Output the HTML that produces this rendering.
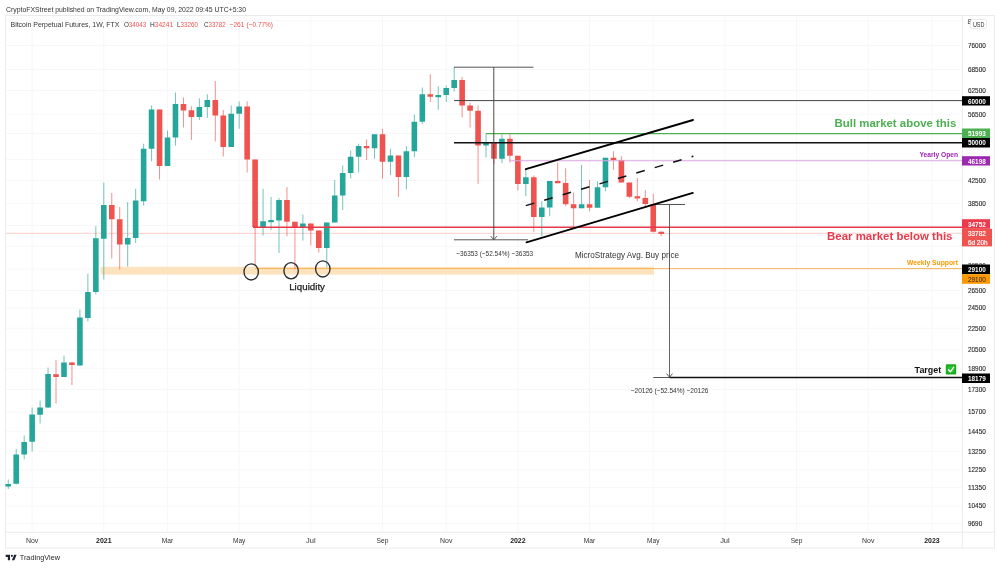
<!DOCTYPE html>
<html lang="en"><head><meta charset="utf-8"><title>Bitcoin Perpetual Futures, 1W, FTX</title>
<style>
html,body{margin:0;padding:0;background:#fff;}
body{width:1000px;height:568px;overflow:hidden;font-family:"Liberation Sans",sans-serif;}
svg{display:block;font-family:"Liberation Sans",sans-serif;}
</style></head><body>
<svg width="1000" height="568" viewBox="0 0 1000 568">
<rect width="1000" height="568" fill="#fff"/>
<g id="frame" fill="none" stroke="#ebebee" stroke-width="1">
<rect x="5.5" y="15.5" width="989" height="532.5"/>
<line x1="962.3" x2="962.3" y1="15.5" y2="548"/>
<line x1="5.5" x2="994.5" y1="532.3" y2="532.3"/>
</g>
<g id="chart">
<line x1="6" x2="962" y1="45.50" y2="45.50" stroke="#f7f7f9" stroke-width="1"/>
<line x1="6" x2="962" y1="69.50" y2="69.50" stroke="#f7f7f9" stroke-width="1"/>
<line x1="6" x2="962" y1="90.50" y2="90.50" stroke="#f7f7f9" stroke-width="1"/>
<line x1="6" x2="962" y1="114.25" y2="114.25" stroke="#f7f7f9" stroke-width="1"/>
<line x1="6" x2="962" y1="180.50" y2="180.50" stroke="#f7f7f9" stroke-width="1"/>
<line x1="6" x2="962" y1="203.25" y2="203.25" stroke="#f7f7f9" stroke-width="1"/>
<line x1="6" x2="962" y1="290.50" y2="290.50" stroke="#f7f7f9" stroke-width="1"/>
<line x1="6" x2="962" y1="308.00" y2="308.00" stroke="#f7f7f9" stroke-width="1"/>
<line x1="6" x2="962" y1="328.25" y2="328.25" stroke="#f7f7f9" stroke-width="1"/>
<line x1="6" x2="962" y1="350.00" y2="350.00" stroke="#f7f7f9" stroke-width="1"/>
<line x1="6" x2="962" y1="368.75" y2="368.75" stroke="#f7f7f9" stroke-width="1"/>
<line x1="6" x2="962" y1="389.50" y2="389.50" stroke="#f7f7f9" stroke-width="1"/>
<line x1="6" x2="962" y1="412.00" y2="412.00" stroke="#f7f7f9" stroke-width="1"/>
<line x1="6" x2="962" y1="431.25" y2="431.25" stroke="#f7f7f9" stroke-width="1"/>
<line x1="6" x2="962" y1="451.25" y2="451.25" stroke="#f7f7f9" stroke-width="1"/>
<line x1="6" x2="962" y1="470.00" y2="470.00" stroke="#f7f7f9" stroke-width="1"/>
<line x1="6" x2="962" y1="487.50" y2="487.50" stroke="#f7f7f9" stroke-width="1"/>
<line x1="6" x2="962" y1="506.00" y2="506.00" stroke="#f7f7f9" stroke-width="1"/>
<line x1="6" x2="962" y1="523.50" y2="523.50" stroke="#f7f7f9" stroke-width="1"/>
<line x1="6" x2="962" y1="20.90" y2="20.90" stroke="#f7f7f9" stroke-width="1"/>
<line x1="6" x2="962" y1="133.57" y2="133.57" stroke="#f7f7f9" stroke-width="1"/>
<line x1="6" x2="962" y1="159.51" y2="159.51" stroke="#f7f7f9" stroke-width="1"/>
<line x1="6" x2="962" y1="225.44" y2="225.44" stroke="#f7f7f9" stroke-width="1"/>
<line x1="6" x2="962" y1="246.24" y2="246.24" stroke="#f7f7f9" stroke-width="1"/>
<line x1="6" x2="962" y1="269.08" y2="269.08" stroke="#f7f7f9" stroke-width="1"/>
<line x1="32.14" x2="32.14" y1="16" y2="532" stroke="#f7f7f9" stroke-width="1"/>
<line x1="103.81" x2="103.81" y1="16" y2="532" stroke="#f7f7f9" stroke-width="1"/>
<line x1="167.51" x2="167.51" y1="16" y2="532" stroke="#f7f7f9" stroke-width="1"/>
<line x1="239.18" x2="239.18" y1="16" y2="532" stroke="#f7f7f9" stroke-width="1"/>
<line x1="310.84" x2="310.84" y1="16" y2="532" stroke="#f7f7f9" stroke-width="1"/>
<line x1="382.51" x2="382.51" y1="16" y2="532" stroke="#f7f7f9" stroke-width="1"/>
<line x1="446.22" x2="446.22" y1="16" y2="532" stroke="#f7f7f9" stroke-width="1"/>
<line x1="517.88" x2="517.88" y1="16" y2="532" stroke="#f7f7f9" stroke-width="1"/>
<line x1="589.55" x2="589.55" y1="16" y2="532" stroke="#f7f7f9" stroke-width="1"/>
<line x1="653.25" x2="653.25" y1="16" y2="532" stroke="#f7f7f9" stroke-width="1"/>
<line x1="724.92" x2="724.92" y1="16" y2="532" stroke="#f7f7f9" stroke-width="1"/>
<line x1="796.59" x2="796.59" y1="16" y2="532" stroke="#f7f7f9" stroke-width="1"/>
<line x1="868.25" x2="868.25" y1="16" y2="532" stroke="#f7f7f9" stroke-width="1"/>
<line x1="931.96" x2="931.96" y1="16" y2="532" stroke="#f7f7f9" stroke-width="1"/>
<rect x="100.4" y="266.8" width="553.6" height="7.8" fill="#fde3bd"/>
<line x1="255.2" x2="962" y1="268.6" y2="268.6" stroke="#f6b35c" stroke-width="1"/>
<line x1="6" x2="962" y1="233.3" y2="233.3" stroke="#f8bcba" stroke-width="0.75"/>
<line x1="8.25" x2="8.25" y1="479.5" y2="489.0" stroke="#26a69a" stroke-width="1" opacity="0.65"/>
<rect x="5.45" y="484.0" width="5.6" height="2.50" fill="#26a69a"/>
<line x1="16.21" x2="16.21" y1="448.75" y2="484.5" stroke="#26a69a" stroke-width="1" opacity="0.65"/>
<rect x="13.41" y="454.5" width="5.6" height="29.25" fill="#26a69a"/>
<line x1="24.18" x2="24.18" y1="435.5" y2="459.25" stroke="#26a69a" stroke-width="1" opacity="0.65"/>
<rect x="21.38" y="442.0" width="5.6" height="12.50" fill="#26a69a"/>
<line x1="32.14" x2="32.14" y1="407.5" y2="451.5" stroke="#26a69a" stroke-width="1" opacity="0.65"/>
<rect x="29.34" y="414.5" width="5.6" height="27.25" fill="#26a69a"/>
<line x1="40.10" x2="40.10" y1="400.5" y2="423.5" stroke="#26a69a" stroke-width="1" opacity="0.65"/>
<rect x="37.30" y="407.5" width="5.6" height="7.25" fill="#26a69a"/>
<line x1="48.06" x2="48.06" y1="367.5" y2="408.0" stroke="#26a69a" stroke-width="1" opacity="0.65"/>
<rect x="45.27" y="374.0" width="5.6" height="33.50" fill="#26a69a"/>
<line x1="56.03" x2="56.03" y1="360.0" y2="403.5" stroke="#ef5350" stroke-width="1" opacity="0.65"/>
<rect x="53.23" y="374.25" width="5.6" height="2.75" fill="#ef5350"/>
<line x1="63.99" x2="63.99" y1="355.5" y2="377.0" stroke="#26a69a" stroke-width="1" opacity="0.65"/>
<rect x="61.19" y="362.5" width="5.6" height="14.50" fill="#26a69a"/>
<line x1="71.95" x2="71.95" y1="362.0" y2="385.0" stroke="#ef5350" stroke-width="1" opacity="0.65"/>
<rect x="69.15" y="362.5" width="5.6" height="2.50" fill="#ef5350"/>
<line x1="79.92" x2="79.92" y1="309.5" y2="365.5" stroke="#26a69a" stroke-width="1" opacity="0.65"/>
<rect x="77.12" y="317.5" width="5.6" height="48.00" fill="#26a69a"/>
<line x1="87.88" x2="87.88" y1="273.75" y2="321.25" stroke="#26a69a" stroke-width="1" opacity="0.65"/>
<rect x="85.08" y="292.0" width="5.6" height="26.00" fill="#26a69a"/>
<line x1="95.84" x2="95.84" y1="226.25" y2="294.5" stroke="#26a69a" stroke-width="1" opacity="0.65"/>
<rect x="93.04" y="238.25" width="5.6" height="53.75" fill="#26a69a"/>
<line x1="103.81" x2="103.81" y1="182.5" y2="279.5" stroke="#26a69a" stroke-width="1" opacity="0.65"/>
<rect x="101.01" y="205.0" width="5.6" height="33.75" fill="#26a69a"/>
<line x1="111.77" x2="111.77" y1="193.0" y2="258.5" stroke="#ef5350" stroke-width="1" opacity="0.65"/>
<rect x="108.97" y="205.0" width="5.6" height="14.25" fill="#ef5350"/>
<line x1="119.73" x2="119.73" y1="207.0" y2="269.5" stroke="#ef5350" stroke-width="1" opacity="0.65"/>
<rect x="116.93" y="219.25" width="5.6" height="25.25" fill="#ef5350"/>
<line x1="127.70" x2="127.70" y1="202.0" y2="266.5" stroke="#26a69a" stroke-width="1" opacity="0.65"/>
<rect x="124.90" y="238.0" width="5.6" height="6.50" fill="#26a69a"/>
<line x1="135.66" x2="135.66" y1="188.75" y2="243.0" stroke="#26a69a" stroke-width="1" opacity="0.65"/>
<rect x="132.86" y="200.5" width="5.6" height="37.50" fill="#26a69a"/>
<line x1="143.62" x2="143.62" y1="143.75" y2="205.5" stroke="#26a69a" stroke-width="1" opacity="0.65"/>
<rect x="140.82" y="148.75" width="5.6" height="52.50" fill="#26a69a"/>
<line x1="151.58" x2="151.58" y1="105.5" y2="161.25" stroke="#26a69a" stroke-width="1" opacity="0.65"/>
<rect x="148.78" y="109.5" width="5.6" height="39.25" fill="#26a69a"/>
<line x1="159.55" x2="159.55" y1="109.5" y2="179.5" stroke="#ef5350" stroke-width="1" opacity="0.65"/>
<rect x="156.75" y="109.5" width="5.6" height="56.50" fill="#ef5350"/>
<line x1="167.51" x2="167.51" y1="130.5" y2="166.0" stroke="#26a69a" stroke-width="1" opacity="0.65"/>
<rect x="164.71" y="137.5" width="5.6" height="28.50" fill="#26a69a"/>
<line x1="175.47" x2="175.47" y1="92.5" y2="145.5" stroke="#26a69a" stroke-width="1" opacity="0.65"/>
<rect x="172.67" y="104.0" width="5.6" height="33.50" fill="#26a69a"/>
<line x1="183.44" x2="183.44" y1="97.5" y2="127.5" stroke="#ef5350" stroke-width="1" opacity="0.65"/>
<rect x="180.64" y="104.0" width="5.6" height="6.50" fill="#ef5350"/>
<line x1="191.40" x2="191.40" y1="106.25" y2="140.0" stroke="#ef5350" stroke-width="1" opacity="0.65"/>
<rect x="188.60" y="110.25" width="5.6" height="6.75" fill="#ef5350"/>
<line x1="199.36" x2="199.36" y1="98.25" y2="120.0" stroke="#26a69a" stroke-width="1" opacity="0.65"/>
<rect x="196.56" y="107.0" width="5.6" height="10.00" fill="#26a69a"/>
<line x1="207.32" x2="207.32" y1="94.25" y2="118.0" stroke="#26a69a" stroke-width="1" opacity="0.65"/>
<rect x="204.52" y="100.0" width="5.6" height="7.00" fill="#26a69a"/>
<line x1="215.29" x2="215.29" y1="81.0" y2="141.5" stroke="#ef5350" stroke-width="1" opacity="0.65"/>
<rect x="212.49" y="100.0" width="5.6" height="15.50" fill="#ef5350"/>
<line x1="223.25" x2="223.25" y1="110.0" y2="156.5" stroke="#ef5350" stroke-width="1" opacity="0.65"/>
<rect x="220.45" y="115.5" width="5.6" height="31.50" fill="#ef5350"/>
<line x1="231.21" x2="231.21" y1="105.5" y2="147.0" stroke="#26a69a" stroke-width="1" opacity="0.65"/>
<rect x="228.41" y="113.75" width="5.6" height="33.25" fill="#26a69a"/>
<line x1="239.18" x2="239.18" y1="101.5" y2="128.75" stroke="#26a69a" stroke-width="1" opacity="0.65"/>
<rect x="236.38" y="106.5" width="5.6" height="7.25" fill="#26a69a"/>
<line x1="247.14" x2="247.14" y1="101.25" y2="172.5" stroke="#ef5350" stroke-width="1" opacity="0.65"/>
<rect x="244.34" y="106.5" width="5.6" height="53.00" fill="#ef5350"/>
<line x1="255.10" x2="255.10" y1="159.5" y2="265.5" stroke="#ef5350" stroke-width="1" opacity="0.65"/>
<rect x="252.30" y="159.5" width="5.6" height="67.50" fill="#ef5350"/>
<line x1="263.07" x2="263.07" y1="188.75" y2="235.5" stroke="#26a69a" stroke-width="1" opacity="0.65"/>
<rect x="260.27" y="221.25" width="5.6" height="5.75" fill="#26a69a"/>
<line x1="271.03" x2="271.03" y1="197.0" y2="230.0" stroke="#26a69a" stroke-width="1" opacity="0.65"/>
<rect x="268.23" y="220.0" width="5.6" height="2.20" fill="#26a69a"/>
<line x1="278.99" x2="278.99" y1="198.0" y2="253.0" stroke="#26a69a" stroke-width="1" opacity="0.65"/>
<rect x="276.19" y="200.0" width="5.6" height="20.50" fill="#26a69a"/>
<line x1="286.95" x2="286.95" y1="187.0" y2="236.25" stroke="#ef5350" stroke-width="1" opacity="0.65"/>
<rect x="284.15" y="200.0" width="5.6" height="21.75" fill="#ef5350"/>
<line x1="294.92" x2="294.92" y1="221.75" y2="269.5" stroke="#ef5350" stroke-width="1" opacity="0.65"/>
<rect x="292.12" y="221.75" width="5.6" height="5.25" fill="#ef5350"/>
<line x1="302.88" x2="302.88" y1="214.5" y2="240.5" stroke="#26a69a" stroke-width="1" opacity="0.65"/>
<rect x="300.08" y="223.5" width="5.6" height="3.50" fill="#26a69a"/>
<line x1="310.84" x2="310.84" y1="223.5" y2="245.5" stroke="#ef5350" stroke-width="1" opacity="0.65"/>
<rect x="308.04" y="223.5" width="5.6" height="7.00" fill="#ef5350"/>
<line x1="318.81" x2="318.81" y1="230.5" y2="252.5" stroke="#ef5350" stroke-width="1" opacity="0.65"/>
<rect x="316.01" y="230.5" width="5.6" height="17.50" fill="#ef5350"/>
<line x1="326.77" x2="326.77" y1="222.5" y2="267.5" stroke="#26a69a" stroke-width="1" opacity="0.65"/>
<rect x="323.97" y="222.5" width="5.6" height="25.50" fill="#26a69a"/>
<line x1="334.73" x2="334.73" y1="180.0" y2="222.5" stroke="#26a69a" stroke-width="1" opacity="0.65"/>
<rect x="331.93" y="195.5" width="5.6" height="27.00" fill="#26a69a"/>
<line x1="342.70" x2="342.70" y1="165.5" y2="210.0" stroke="#26a69a" stroke-width="1" opacity="0.65"/>
<rect x="339.90" y="173.0" width="5.6" height="22.50" fill="#26a69a"/>
<line x1="350.66" x2="350.66" y1="150.5" y2="178.5" stroke="#26a69a" stroke-width="1" opacity="0.65"/>
<rect x="347.86" y="156.75" width="5.6" height="16.25" fill="#26a69a"/>
<line x1="358.62" x2="358.62" y1="143.75" y2="172.5" stroke="#26a69a" stroke-width="1" opacity="0.65"/>
<rect x="355.82" y="146.0" width="5.6" height="10.75" fill="#26a69a"/>
<line x1="366.58" x2="366.58" y1="139.5" y2="160.0" stroke="#ef5350" stroke-width="1" opacity="0.65"/>
<rect x="363.78" y="146.0" width="5.6" height="2.25" fill="#ef5350"/>
<line x1="374.55" x2="374.55" y1="134.25" y2="158.75" stroke="#26a69a" stroke-width="1" opacity="0.65"/>
<rect x="371.75" y="134.25" width="5.6" height="14.00" fill="#26a69a"/>
<line x1="382.51" x2="382.51" y1="129.0" y2="178.75" stroke="#ef5350" stroke-width="1" opacity="0.65"/>
<rect x="379.71" y="134.25" width="5.6" height="27.50" fill="#ef5350"/>
<line x1="390.47" x2="390.47" y1="148.75" y2="175.0" stroke="#26a69a" stroke-width="1" opacity="0.65"/>
<rect x="387.67" y="155.5" width="5.6" height="6.25" fill="#26a69a"/>
<line x1="398.44" x2="398.44" y1="155.5" y2="197.0" stroke="#ef5350" stroke-width="1" opacity="0.65"/>
<rect x="395.64" y="155.5" width="5.6" height="21.50" fill="#ef5350"/>
<line x1="406.40" x2="406.40" y1="146.25" y2="189.5" stroke="#26a69a" stroke-width="1" opacity="0.65"/>
<rect x="403.60" y="151.25" width="5.6" height="25.75" fill="#26a69a"/>
<line x1="414.36" x2="414.36" y1="114.5" y2="157.0" stroke="#26a69a" stroke-width="1" opacity="0.65"/>
<rect x="411.56" y="121.75" width="5.6" height="29.50" fill="#26a69a"/>
<line x1="422.33" x2="422.33" y1="87.5" y2="124.0" stroke="#26a69a" stroke-width="1" opacity="0.65"/>
<rect x="419.53" y="94.25" width="5.6" height="27.50" fill="#26a69a"/>
<line x1="430.29" x2="430.29" y1="74.25" y2="102.0" stroke="#ef5350" stroke-width="1" opacity="0.65"/>
<rect x="427.49" y="94.25" width="5.6" height="2.50" fill="#ef5350"/>
<line x1="438.25" x2="438.25" y1="86.25" y2="110.0" stroke="#26a69a" stroke-width="1" opacity="0.65"/>
<rect x="435.45" y="95.0" width="5.6" height="2.20" fill="#26a69a"/>
<line x1="446.22" x2="446.22" y1="85.5" y2="102.0" stroke="#26a69a" stroke-width="1" opacity="0.65"/>
<rect x="443.42" y="88.0" width="5.6" height="7.00" fill="#26a69a"/>
<line x1="454.18" x2="454.18" y1="67.0" y2="91.5" stroke="#26a69a" stroke-width="1" opacity="0.65"/>
<rect x="451.38" y="80.0" width="5.6" height="8.00" fill="#26a69a"/>
<line x1="462.14" x2="462.14" y1="77.0" y2="117.5" stroke="#ef5350" stroke-width="1" opacity="0.65"/>
<rect x="459.34" y="80.0" width="5.6" height="25.50" fill="#ef5350"/>
<line x1="470.10" x2="470.10" y1="102.5" y2="127.5" stroke="#ef5350" stroke-width="1" opacity="0.65"/>
<rect x="467.30" y="105.5" width="5.6" height="5.25" fill="#ef5350"/>
<line x1="478.07" x2="478.07" y1="105.5" y2="183.75" stroke="#ef5350" stroke-width="1" opacity="0.65"/>
<rect x="475.27" y="110.75" width="5.6" height="34.75" fill="#ef5350"/>
<line x1="486.03" x2="486.03" y1="133.75" y2="157.5" stroke="#26a69a" stroke-width="1" opacity="0.65"/>
<rect x="483.23" y="142.5" width="5.6" height="3.00" fill="#26a69a"/>
<line x1="493.99" x2="493.99" y1="142.5" y2="163.75" stroke="#ef5350" stroke-width="1" opacity="0.65"/>
<rect x="491.19" y="142.5" width="5.6" height="16.25" fill="#ef5350"/>
<line x1="501.96" x2="501.96" y1="134.25" y2="163.25" stroke="#26a69a" stroke-width="1" opacity="0.65"/>
<rect x="499.16" y="138.75" width="5.6" height="20.00" fill="#26a69a"/>
<line x1="509.92" x2="509.92" y1="134.25" y2="162.5" stroke="#ef5350" stroke-width="1" opacity="0.65"/>
<rect x="507.12" y="138.75" width="5.6" height="17.00" fill="#ef5350"/>
<line x1="517.88" x2="517.88" y1="155.75" y2="190.5" stroke="#ef5350" stroke-width="1" opacity="0.65"/>
<rect x="515.08" y="155.75" width="5.6" height="28.25" fill="#ef5350"/>
<line x1="525.85" x2="525.85" y1="169.5" y2="196.25" stroke="#26a69a" stroke-width="1" opacity="0.65"/>
<rect x="523.05" y="177.25" width="5.6" height="6.75" fill="#26a69a"/>
<line x1="533.81" x2="533.81" y1="175.5" y2="231.75" stroke="#ef5350" stroke-width="1" opacity="0.65"/>
<rect x="531.01" y="177.25" width="5.6" height="39.75" fill="#ef5350"/>
<line x1="541.77" x2="541.77" y1="201.25" y2="236.25" stroke="#26a69a" stroke-width="1" opacity="0.65"/>
<rect x="538.97" y="207.5" width="5.6" height="9.50" fill="#26a69a"/>
<line x1="549.73" x2="549.73" y1="181.0" y2="216.25" stroke="#26a69a" stroke-width="1" opacity="0.65"/>
<rect x="546.93" y="181.0" width="5.6" height="26.50" fill="#26a69a"/>
<line x1="557.70" x2="557.70" y1="162.5" y2="183.25" stroke="#ef5350" stroke-width="1" opacity="0.65"/>
<rect x="554.90" y="181.0" width="5.6" height="2.25" fill="#ef5350"/>
<line x1="565.66" x2="565.66" y1="168.25" y2="206.25" stroke="#ef5350" stroke-width="1" opacity="0.65"/>
<rect x="562.86" y="183.0" width="5.6" height="21.25" fill="#ef5350"/>
<line x1="573.62" x2="573.62" y1="192.5" y2="227.0" stroke="#ef5350" stroke-width="1" opacity="0.65"/>
<rect x="570.82" y="204.25" width="5.6" height="4.00" fill="#ef5350"/>
<line x1="581.59" x2="581.59" y1="165.0" y2="208.25" stroke="#26a69a" stroke-width="1" opacity="0.65"/>
<rect x="578.79" y="204.25" width="5.6" height="4.00" fill="#26a69a"/>
<line x1="589.55" x2="589.55" y1="180.0" y2="211.25" stroke="#ef5350" stroke-width="1" opacity="0.65"/>
<rect x="586.75" y="204.25" width="5.6" height="3.50" fill="#ef5350"/>
<line x1="597.51" x2="597.51" y1="181.25" y2="207.75" stroke="#26a69a" stroke-width="1" opacity="0.65"/>
<rect x="594.71" y="187.25" width="5.6" height="20.50" fill="#26a69a"/>
<line x1="605.48" x2="605.48" y1="157.75" y2="191.25" stroke="#26a69a" stroke-width="1" opacity="0.65"/>
<rect x="602.68" y="157.75" width="5.6" height="29.50" fill="#26a69a"/>
<line x1="613.44" x2="613.44" y1="151.25" y2="170.0" stroke="#ef5350" stroke-width="1" opacity="0.65"/>
<rect x="610.64" y="157.75" width="5.6" height="2.25" fill="#ef5350"/>
<line x1="621.40" x2="621.40" y1="156.25" y2="182.5" stroke="#ef5350" stroke-width="1" opacity="0.65"/>
<rect x="618.60" y="160.0" width="5.6" height="22.50" fill="#ef5350"/>
<line x1="629.36" x2="629.36" y1="182.5" y2="198.0" stroke="#ef5350" stroke-width="1" opacity="0.65"/>
<rect x="626.56" y="182.5" width="5.6" height="14.25" fill="#ef5350"/>
<line x1="637.33" x2="637.33" y1="178.0" y2="201.25" stroke="#ef5350" stroke-width="1" opacity="0.65"/>
<rect x="634.53" y="196.25" width="5.6" height="2.20" fill="#ef5350"/>
<line x1="645.29" x2="645.29" y1="190.0" y2="206.25" stroke="#ef5350" stroke-width="1" opacity="0.65"/>
<rect x="642.49" y="198.0" width="5.6" height="6.00" fill="#ef5350"/>
<line x1="653.25" x2="653.25" y1="193.75" y2="232.5" stroke="#ef5350" stroke-width="1" opacity="0.65"/>
<rect x="650.45" y="204.0" width="5.6" height="27.75" fill="#ef5350"/>
<line x1="661.22" x2="661.22" y1="231.25" y2="236.25" stroke="#ef5350" stroke-width="1" opacity="0.65"/>
<rect x="658.42" y="231.75" width="5.6" height="2.20" fill="#ef5350"/>
<line x1="454" x2="533.5" y1="67.2" y2="67.2" stroke="#555" stroke-width="1"/>
<line x1="454" x2="962" y1="100.6" y2="100.6" stroke="#444" stroke-width="1"/>
<line x1="486" x2="962" y1="133.6" y2="133.6" stroke="#4caf50" stroke-width="1.3"/>
<line x1="454" x2="962" y1="142.7" y2="142.7" stroke="#111" stroke-width="1.4"/>
<line x1="509.5" x2="962" y1="160.7" y2="160.7" stroke="#dba6e0" stroke-width="1.1"/>
<line x1="253" x2="962" y1="227.2" y2="227.2" stroke="#e8394a" stroke-width="1.5"/>
<line x1="493.8" x2="493.8" y1="67.2" y2="239.6" stroke="#4a4a4a" stroke-width="1"/>
<path d="M490.8 236.2 L493.8 239.8 L496.8 236.2" fill="none" stroke="#444" stroke-width="0.9"/>
<line x1="454" x2="528" y1="239.8" y2="239.8" stroke="#555" stroke-width="1"/>
<line x1="655" x2="685" y1="204.5" y2="204.5" stroke="#555" stroke-width="1"/>
<line x1="669.5" x2="669.5" y1="204.5" y2="377" stroke="#555" stroke-width="0.9"/>
<path d="M666.5 373.6 L669.5 377.2 L672.5 373.6" fill="none" stroke="#444" stroke-width="0.9"/>
<line x1="653.3" x2="669.5" y1="377.5" y2="377.5" stroke="#555" stroke-width="1"/>
<line x1="669.5" x2="962" y1="377.5" y2="377.5" stroke="#111" stroke-width="1.4"/>
<line x1="525.8" y1="169.2" x2="693" y2="120" stroke="#000" stroke-width="1.85" stroke-linecap="round"/>
<line x1="526.5" y1="242.3" x2="692.8" y2="192.9" stroke="#000" stroke-width="1.85" stroke-linecap="round"/>
<line x1="525.8" y1="205.6" x2="693.4" y2="156.2" stroke="#111" stroke-width="1.5" stroke-dasharray="8.8 10.4"/>
<ellipse cx="251.2" cy="271.9" rx="7.2" ry="8.1" fill="none" stroke="#2a2a2a" stroke-width="1.35"/>
<ellipse cx="291.1" cy="270.7" rx="7.2" ry="8.1" fill="none" stroke="#2a2a2a" stroke-width="1.35"/>
<ellipse cx="322.8" cy="268.9" rx="7.2" ry="8.1" fill="none" stroke="#2a2a2a" stroke-width="1.35"/>
</g>
<g id="labels">
<text x="6" y="11.6" font-size="7.4" fill="#333" font-weight="normal" text-anchor="start" textLength="240" lengthAdjust="spacingAndGlyphs">CryptoFXStreet published on TradingView.com, May 09, 2022 09:45 UTC+5:30</text>
<text x="10.5" y="26.9" font-size="7.4" fill="#333" font-weight="normal" text-anchor="start" textLength="108.9" lengthAdjust="spacingAndGlyphs">Bitcoin Perpetual Futures, 1W, FTX</text>
<text x="123.9" y="26.9" font-size="7.4" fill="#333" textLength="22.5" lengthAdjust="spacingAndGlyphs">O<tspan fill="#ef5350">34043</tspan></text>
<text x="150" y="26.9" font-size="7.4" fill="#333" textLength="23.099999999999994" lengthAdjust="spacingAndGlyphs">H<tspan fill="#ef5350">34241</tspan></text>
<text x="177" y="26.9" font-size="7.4" fill="#333" textLength="21" lengthAdjust="spacingAndGlyphs">L<tspan fill="#ef5350">33260</tspan></text>
<text x="204" y="26.9" font-size="7.4" fill="#333" textLength="21.599999999999994" lengthAdjust="spacingAndGlyphs">C<tspan fill="#ef5350">33782</tspan></text>
<text x="229.5" y="26.9" font-size="7.4" fill="#ef5350" font-weight="normal" text-anchor="start" textLength="15" lengthAdjust="spacingAndGlyphs">−261</text>
<text x="246.6" y="26.9" font-size="7.4" fill="#ef5350" font-weight="normal" text-anchor="start" textLength="26.4" lengthAdjust="spacingAndGlyphs">(−0.77%)</text>
<text x="968" y="47.8" font-size="7.2" fill="#262626" font-weight="normal" text-anchor="start" textLength="17.8" lengthAdjust="spacingAndGlyphs" stroke="#262626" stroke-width="0.12">76000</text>
<text x="968" y="71.8" font-size="7.2" fill="#262626" font-weight="normal" text-anchor="start" textLength="17.8" lengthAdjust="spacingAndGlyphs" stroke="#262626" stroke-width="0.12">68500</text>
<text x="968" y="92.8" font-size="7.2" fill="#262626" font-weight="normal" text-anchor="start" textLength="17.8" lengthAdjust="spacingAndGlyphs" stroke="#262626" stroke-width="0.12">62500</text>
<text x="968" y="116.55" font-size="7.2" fill="#262626" font-weight="normal" text-anchor="start" textLength="17.8" lengthAdjust="spacingAndGlyphs" stroke="#262626" stroke-width="0.12">56500</text>
<text x="968" y="182.8" font-size="7.2" fill="#262626" font-weight="normal" text-anchor="start" textLength="17.8" lengthAdjust="spacingAndGlyphs" stroke="#262626" stroke-width="0.12">42500</text>
<text x="968" y="205.55" font-size="7.2" fill="#262626" font-weight="normal" text-anchor="start" textLength="17.8" lengthAdjust="spacingAndGlyphs" stroke="#262626" stroke-width="0.12">38500</text>
<text x="968" y="292.8" font-size="7.2" fill="#262626" font-weight="normal" text-anchor="start" textLength="17.8" lengthAdjust="spacingAndGlyphs" stroke="#262626" stroke-width="0.12">26500</text>
<text x="968" y="310.3" font-size="7.2" fill="#262626" font-weight="normal" text-anchor="start" textLength="17.8" lengthAdjust="spacingAndGlyphs" stroke="#262626" stroke-width="0.12">24500</text>
<text x="968" y="330.55" font-size="7.2" fill="#262626" font-weight="normal" text-anchor="start" textLength="17.8" lengthAdjust="spacingAndGlyphs" stroke="#262626" stroke-width="0.12">22500</text>
<text x="968" y="352.3" font-size="7.2" fill="#262626" font-weight="normal" text-anchor="start" textLength="17.8" lengthAdjust="spacingAndGlyphs" stroke="#262626" stroke-width="0.12">20500</text>
<text x="968" y="371.05" font-size="7.2" fill="#262626" font-weight="normal" text-anchor="start" textLength="17.8" lengthAdjust="spacingAndGlyphs" stroke="#262626" stroke-width="0.12">18900</text>
<text x="968" y="391.8" font-size="7.2" fill="#262626" font-weight="normal" text-anchor="start" textLength="17.8" lengthAdjust="spacingAndGlyphs" stroke="#262626" stroke-width="0.12">17300</text>
<text x="968" y="414.3" font-size="7.2" fill="#262626" font-weight="normal" text-anchor="start" textLength="17.8" lengthAdjust="spacingAndGlyphs" stroke="#262626" stroke-width="0.12">15700</text>
<text x="968" y="433.55" font-size="7.2" fill="#262626" font-weight="normal" text-anchor="start" textLength="17.8" lengthAdjust="spacingAndGlyphs" stroke="#262626" stroke-width="0.12">14450</text>
<text x="968" y="453.55" font-size="7.2" fill="#262626" font-weight="normal" text-anchor="start" textLength="17.8" lengthAdjust="spacingAndGlyphs" stroke="#262626" stroke-width="0.12">13250</text>
<text x="968" y="472.3" font-size="7.2" fill="#262626" font-weight="normal" text-anchor="start" textLength="17.8" lengthAdjust="spacingAndGlyphs" stroke="#262626" stroke-width="0.12">12250</text>
<text x="968" y="489.8" font-size="7.2" fill="#262626" font-weight="normal" text-anchor="start" textLength="17.8" lengthAdjust="spacingAndGlyphs" stroke="#262626" stroke-width="0.12">11350</text>
<text x="968" y="508.3" font-size="7.2" fill="#262626" font-weight="normal" text-anchor="start" textLength="17.8" lengthAdjust="spacingAndGlyphs" stroke="#262626" stroke-width="0.12">10450</text>
<text x="968" y="525.8" font-size="7.2" fill="#262626" font-weight="normal" text-anchor="start" textLength="14.2" lengthAdjust="spacingAndGlyphs" stroke="#262626" stroke-width="0.12">9690</text>
<text x="967.6" y="24.4" font-size="7.2" fill="#333" font-weight="normal" text-anchor="start">8</text>
<rect x="970.5" y="19.3" width="16" height="9.4" rx="2" fill="#fff" stroke="#e0e3eb" stroke-width="0.8"/>
<text x="972.9" y="26.6" font-size="7" fill="#333" font-weight="normal" text-anchor="start" textLength="11.6" lengthAdjust="spacingAndGlyphs">USD</text>
<text x="968" y="268.3" font-size="7.2" fill="#2a2a2a" font-weight="normal" text-anchor="start" textLength="17.8" lengthAdjust="spacingAndGlyphs">29500</text>
<rect x="962" y="96.2" width="28" height="9.299999999999997" fill="#000"/>
<text x="968" y="103.55" font-size="7.4" fill="#fff" font-weight="bold" text-anchor="start" textLength="17.8" lengthAdjust="spacingAndGlyphs">60000</text>
<rect x="962" y="128.5" width="28" height="9.5" fill="#4caf50"/>
<text x="968" y="135.95" font-size="7.4" fill="#fff" font-weight="bold" text-anchor="start" textLength="17.8" lengthAdjust="spacingAndGlyphs">51993</text>
<rect x="962" y="138" width="28" height="9.5" fill="#000"/>
<text x="968" y="145.45" font-size="7.4" fill="#fff" font-weight="bold" text-anchor="start" textLength="17.8" lengthAdjust="spacingAndGlyphs">50000</text>
<rect x="962" y="156.2" width="28" height="9.300000000000011" fill="#9c27b0"/>
<text x="968" y="163.54999999999998" font-size="7.4" fill="#fff" font-weight="bold" text-anchor="start" textLength="17.8" lengthAdjust="spacingAndGlyphs">46198</text>
<rect x="962" y="219.2" width="28" height="9.600000000000023" fill="#ea3a4b"/>
<text x="968" y="226.7" font-size="7.4" fill="#fff" font-weight="bold" text-anchor="start" textLength="17.8" lengthAdjust="spacingAndGlyphs">34752</text>
<rect x="962" y="228.8" width="30" height="17.6" fill="#ef5350"/>
<text x="968" y="235.8" font-size="7.4" fill="#fff" font-weight="normal" text-anchor="start" textLength="17.8" lengthAdjust="spacingAndGlyphs" stroke="#fff" stroke-width="0.2">33782</text>
<text x="968" y="244.6" font-size="7.4" fill="#fff" font-weight="normal" text-anchor="start" textLength="19.5" lengthAdjust="spacingAndGlyphs" stroke="#fff" stroke-width="0.2">6d 20h</text>
<rect x="962" y="264.5" width="28" height="9.699999999999989" fill="#000"/>
<text x="968" y="272.05" font-size="7.4" fill="#fff" font-weight="bold" text-anchor="start" textLength="17.8" lengthAdjust="spacingAndGlyphs">29100</text>
<rect x="962" y="274.2" width="28" height="9.600000000000023" fill="#ff9800"/>
<text x="968" y="281.7" font-size="7.4" fill="#222" font-weight="normal" text-anchor="start" textLength="17.8" lengthAdjust="spacingAndGlyphs">29100</text>
<rect x="962" y="373.5" width="28" height="9.5" fill="#000"/>
<text x="968" y="380.95" font-size="7.4" fill="#fff" font-weight="bold" text-anchor="start" textLength="17.8" lengthAdjust="spacingAndGlyphs">18179</text>
<text x="956.3" y="127.4" font-size="10.9" fill="#4caf50" font-weight="bold" text-anchor="end" textLength="121.8" lengthAdjust="spacingAndGlyphs">Bull market above this</text>
<text x="952.5" y="239.5" font-size="10.9" fill="#e8394a" font-weight="bold" text-anchor="end" textLength="125.5" lengthAdjust="spacingAndGlyphs">Bear market below this</text>
<text x="958" y="157.2" font-size="7.6" fill="#9c27b0" font-weight="bold" text-anchor="end" textLength="38.5" lengthAdjust="spacingAndGlyphs">Yearly Open</text>
<text x="958" y="265.2" font-size="7.6" fill="#ff9800" font-weight="bold" text-anchor="end" textLength="51" lengthAdjust="spacingAndGlyphs">Weekly Support</text>
<text x="914.6" y="372.6" font-size="8.9" fill="#111" font-weight="bold" text-anchor="start" textLength="26.6" lengthAdjust="spacingAndGlyphs">Target</text>
<rect x="945.8" y="364.2" width="10.4" height="10.4" rx="1.2" fill="#22b522"/>
<rect x="947" y="365.4" width="8" height="8" rx="0.6" fill="#2bc02b" stroke="#118a11" stroke-width="0.5"/>
<path d="M948.4 369.6 L950.4 371.8 L953.8 367.2" fill="none" stroke="#fff" stroke-width="1.3" stroke-linecap="round" stroke-linejoin="round"/>
<text x="289.2" y="290.3" font-size="9.6" fill="#222" font-weight="normal" text-anchor="start" textLength="35.8" lengthAdjust="spacingAndGlyphs" stroke="#222" stroke-width="0.25">Liquidity</text>
<text x="456.2" y="256.3" font-size="7.4" fill="#333" font-weight="normal" text-anchor="start" textLength="77" lengthAdjust="spacingAndGlyphs">−36353 (−52.54%) −36353</text>
<text x="630.7" y="393.4" font-size="7.4" fill="#333" font-weight="normal" text-anchor="start" textLength="77.8" lengthAdjust="spacingAndGlyphs">−20126 (−52.54%) −20126</text>
<text x="575" y="258.2" font-size="8.6" fill="#333" font-weight="normal" text-anchor="start" textLength="104" lengthAdjust="spacingAndGlyphs">MicroStrategy Avg. Buy price</text>
<text x="32.14" y="543" font-size="7.5" fill="#333" font-weight="normal" text-anchor="middle" textLength="12.3" lengthAdjust="spacingAndGlyphs">Nov</text>
<text x="103.81" y="543" font-size="7.5" fill="#222" font-weight="bold" text-anchor="middle" textLength="15.5" lengthAdjust="spacingAndGlyphs">2021</text>
<text x="167.51" y="543" font-size="7.5" fill="#333" font-weight="normal" text-anchor="middle" textLength="11.5" lengthAdjust="spacingAndGlyphs">Mar</text>
<text x="239.18" y="543" font-size="7.5" fill="#333" font-weight="normal" text-anchor="middle" textLength="12.3" lengthAdjust="spacingAndGlyphs">May</text>
<text x="310.84" y="543" font-size="7.5" fill="#333" font-weight="normal" text-anchor="middle" textLength="9.5" lengthAdjust="spacingAndGlyphs">Jul</text>
<text x="382.51" y="543" font-size="7.5" fill="#333" font-weight="normal" text-anchor="middle" textLength="11.8" lengthAdjust="spacingAndGlyphs">Sep</text>
<text x="446.22" y="543" font-size="7.5" fill="#333" font-weight="normal" text-anchor="middle" textLength="12.3" lengthAdjust="spacingAndGlyphs">Nov</text>
<text x="517.88" y="543" font-size="7.5" fill="#222" font-weight="bold" text-anchor="middle" textLength="15.5" lengthAdjust="spacingAndGlyphs">2022</text>
<text x="589.55" y="543" font-size="7.5" fill="#333" font-weight="normal" text-anchor="middle" textLength="11.5" lengthAdjust="spacingAndGlyphs">Mar</text>
<text x="653.25" y="543" font-size="7.5" fill="#333" font-weight="normal" text-anchor="middle" textLength="12.3" lengthAdjust="spacingAndGlyphs">May</text>
<text x="724.92" y="543" font-size="7.5" fill="#333" font-weight="normal" text-anchor="middle" textLength="9.5" lengthAdjust="spacingAndGlyphs">Jul</text>
<text x="796.59" y="543" font-size="7.5" fill="#333" font-weight="normal" text-anchor="middle" textLength="11.8" lengthAdjust="spacingAndGlyphs">Sep</text>
<text x="868.25" y="543" font-size="7.5" fill="#333" font-weight="normal" text-anchor="middle" textLength="12.3" lengthAdjust="spacingAndGlyphs">Nov</text>
<text x="931.96" y="543" font-size="7.5" fill="#222" font-weight="bold" text-anchor="middle" textLength="15.5" lengthAdjust="spacingAndGlyphs">2023</text>
<g fill="#1e222d" transform="translate(5.7 553.55) scale(0.308)"><path d="M14 22H7V11H0V4h14v18z"/><circle cx="20" cy="7.5" r="3.5"/><path d="M28 22H20l7.5-18h8L28 22z"/></g>
<text x="19.7" y="560.1" font-size="7.7" fill="#2a2a2a" font-weight="normal" text-anchor="start" textLength="40.4" lengthAdjust="spacingAndGlyphs">TradingView</text>
</g>
</svg>
</body></html>
